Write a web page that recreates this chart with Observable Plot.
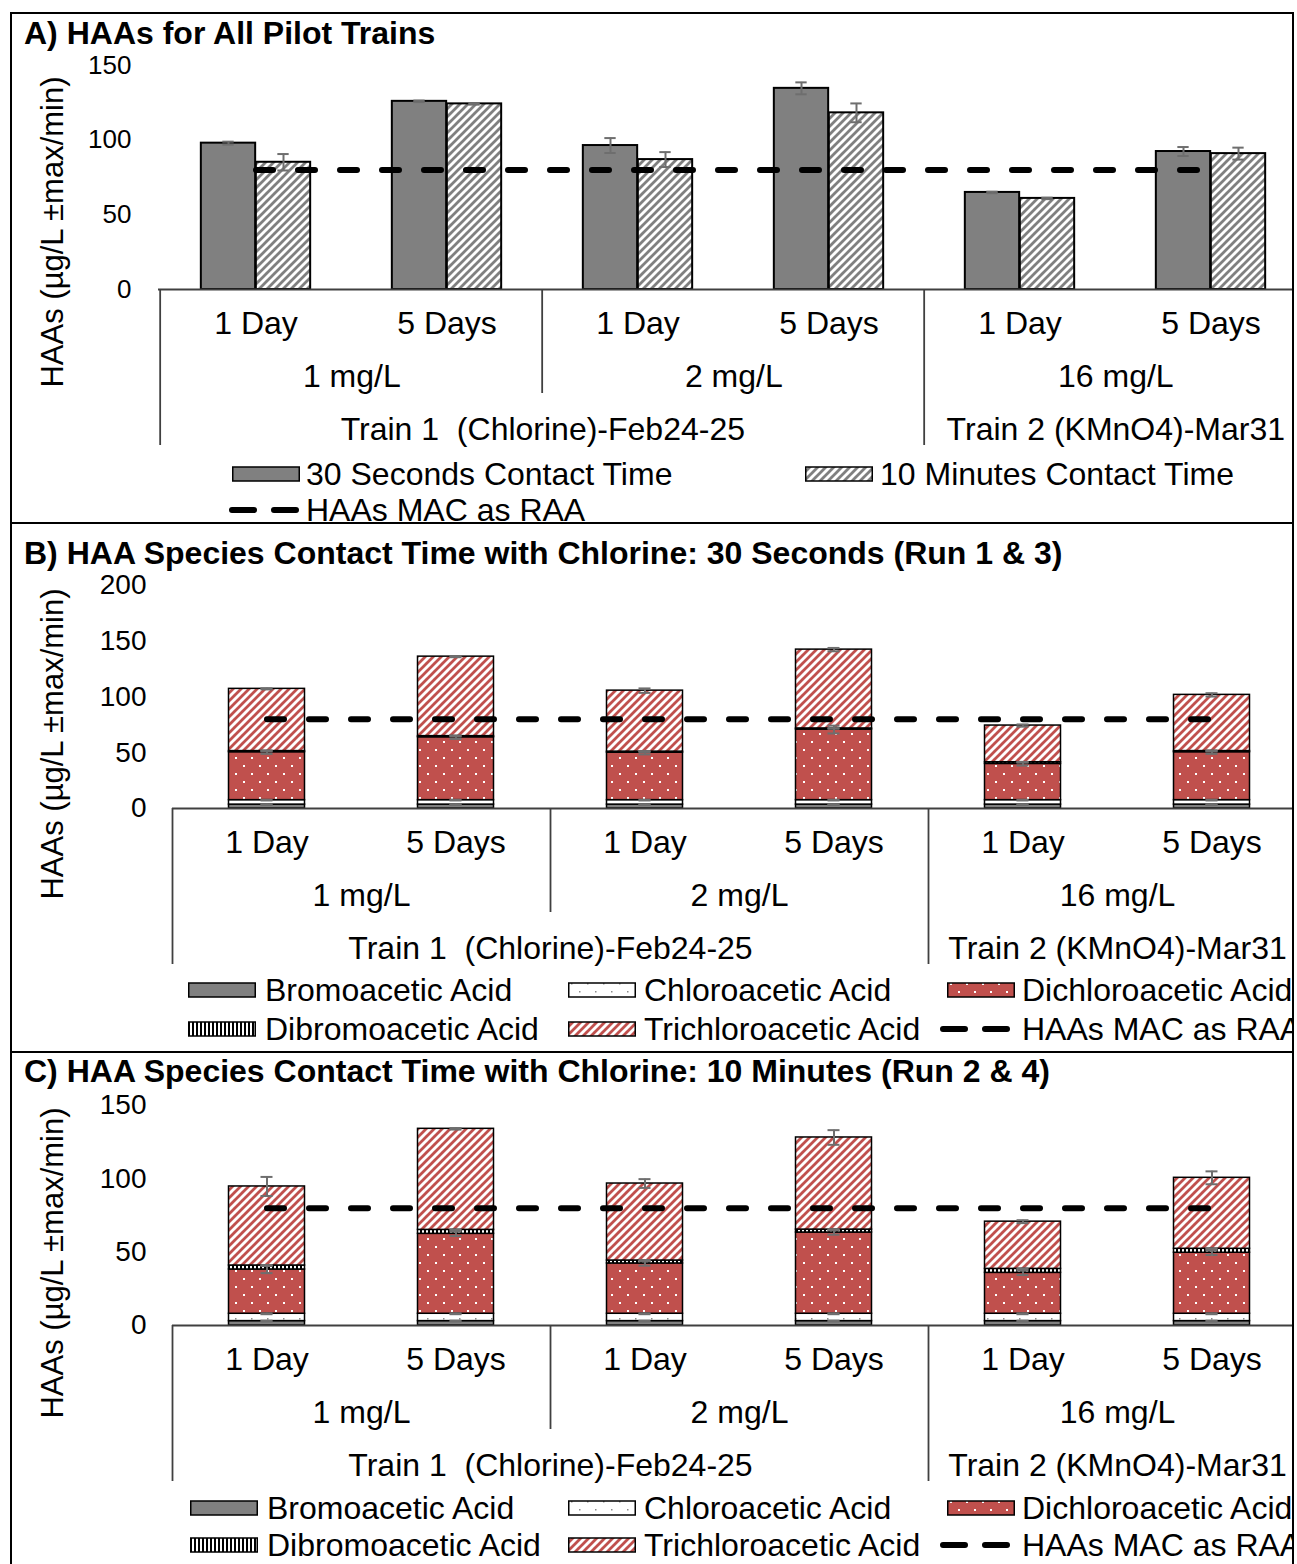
<!DOCTYPE html>
<html>
<head>
<meta charset="utf-8">
<script src="https://cdn.jsdelivr.net/npm/d3@7"></script>
<script src="https://cdn.jsdelivr.net/npm/@observablehq/plot@0.6"></script>
<style>
  html, body { margin: 0; padding: 0; background: #fff; }
  #figure { position: relative; width: 1297px; height: 1564px; overflow: hidden; background: #fff;
            font-family: "Liberation Sans", Arial, Helvetica, sans-serif; color: #000; }
  .panel { position: absolute; box-sizing: border-box; border: 2px solid #000; overflow: hidden; }
  .panel.open-bottom { border-bottom: none; }
  .panel svg text { white-space: pre; }
  .title { position: absolute; font-size: 32px; line-height: 32px; font-weight: bold; white-space: nowrap; }
  .ylabel { position: absolute; font-size: 31px; line-height: 31px; white-space: nowrap;
            transform: translate(-50%, -50%) rotate(-90deg); }
  .legend-text { position: absolute; font-size: 32px; line-height: 24px; white-space: nowrap; }
  .swatch { position: absolute; overflow: visible; }
</style>
</head>
<body>
<div id="figure">
  <svg width="0" height="0" style="position:absolute" aria-hidden="true">
    <defs>
      <pattern id="hatch-gray" patternUnits="userSpaceOnUse" width="8" height="8">
        <rect width="8" height="8" fill="#fff"/>
        <path d="M-2,2 L2,-2 M0,8 L8,0 M6,10 L10,6" stroke="#808080" stroke-width="2.8"/>
      </pattern>
      <pattern id="hatch-red" patternUnits="userSpaceOnUse" width="8" height="8">
        <rect width="8" height="8" fill="#fff"/>
        <path d="M-2,2 L2,-2 M0,8 L8,0 M6,10 L10,6" stroke="#C0504D" stroke-width="2.8"/>
      </pattern>
      <pattern id="dots-red" patternUnits="userSpaceOnUse" width="16" height="16">
        <rect width="16" height="16" fill="#C0504D"/>
        <rect x="3" y="3" width="2" height="2" fill="#fff"/>
        <rect x="11" y="11" width="2" height="2" fill="#fff"/>
      </pattern>
      <pattern id="dots-white" patternUnits="userSpaceOnUse" width="16" height="16">
        <rect width="16" height="16" fill="#fff"/>
        <rect x="3" y="3" width="1.5" height="1.5" fill="#8c8c8c"/>
        <rect x="11" y="11" width="1.5" height="1.5" fill="#8c8c8c"/>
      </pattern>
      <pattern id="stripes-vertical" patternUnits="userSpaceOnUse" width="4" height="4">
        <rect width="4" height="4" fill="#fff"/>
        <rect width="2" height="4" fill="#000"/>
      </pattern>
    </defs>
  </svg>
</div>
<script>
// ---------------- Data ----------------
const categoryDays = ["1 Day", "5 Days"];
const doseLevels = ["1 mg/L", "2 mg/L", "16 mg/L"];
const trainLabels = ["Train 1  (Chlorine)-Feb24-25", "Train 2 (KMnO4)-Mar31"];
const trainDoseCounts = [2, 1];           // dose levels belonging to each train

const macLimit = 80;                       // HAAs maximum acceptable concentration (µg/L)

// Panel A: total HAAs by chlorine contact time
const haa30s    = [98, 126, 96.4, 134.7, 65, 92.4];
const haa30sErr = [1, 0.5, 5, 4, 0.5, 3];
const haa10m    = [85.2, 124.3, 87, 118.3, 61, 91];
const haa10mErr = [5.5, 0.5, 5, 6.3, 0.5, 4];

// HAA species, stacked bottom to top
const speciesNames = ["Bromoacetic Acid", "Chloroacetic Acid", "Dichloroacetic Acid",
                      "Dibromoacetic Acid", "Trichloroacetic Acid"];
const speciesFills = ["#808080", "url(#dots-white)", "url(#dots-red)",
                      "url(#stripes-vertical)", "url(#hatch-red)"];

// Panel B: 30 seconds contact time
const bromoB     = [3.5, 3.5, 3.5, 3.5, 3.5, 3.5];
const chloroB    = [4, 4, 4, 4, 4, 4];
const dichloroB  = [43, 56.4, 42.5, 63.3, 32.5, 43];
const dibromoB   = [1, 1, 1, 1, 1.5, 1];
const trichloroB = [55.8, 71.3, 54.7, 70.7, 32.9, 50.4];
const bromoBErr     = [0.3, 0.3, 0.3, 0.3, 0.3, 0.3];
const chloroBErr    = [0.3, 0.3, 0.3, 0.3, 0.3, 0.3];
const dichloroBErr  = [1.5, 1.5, 1.5, 3.5, 1.5, 1.5];
const dibromoBErr   = [0.3, 0.3, 0.3, 0.3, 0.3, 0.3];
const trichloroBErr = [0.5, 0.5, 2, 1.5, 1, 1.5];

// Panel C: 10 minutes contact time
const bromoC     = [3, 3, 3, 3, 3, 3];
const chloroC    = [5, 5, 5, 5, 5, 5];
const dichloroC  = [30.2, 54.5, 34.3, 55.4, 27.9, 41.6];
const dibromoC   = [2.7, 2.7, 2, 2, 2.7, 2.7];
const trichloroC = [53.9, 68.9, 52.5, 62.8, 32.2, 48.4];
const bromoCErr     = [0.3, 0.3, 0.3, 0.3, 0.3, 0.3];
const chloroCErr    = [0.3, 0.3, 0.3, 0.3, 0.3, 0.3];
const dichloroCErr  = [2.5, 1.5, 1.5, 1.5, 1.5, 1.5];
const dibromoCErr   = [0.3, 0.3, 0.3, 0.3, 0.3, 0.3];
const trichloroCErr = [6.5, 0.5, 3, 5, 1, 4.4];

const yTicksA = [0, 50, 100, 150];
const yTicksB = [0, 50, 100, 150, 200];
const yTicksC = [0, 50, 100, 150];

const yTitle = "HAAs (µg/L ±max/min)";

// ---------------- Derived tables ----------------
const categories = doseLevels.flatMap(dose => categoryDays.map(day => ({key: `${dose} · ${day}`, dose, day})));
const categoryKeys = categories.map(c => c.key);
const perDose = categoryDays.length;

const doseGroups = doseLevels.map((dose, d) => ({
  dose,
  start: categories[d * perDose].key,
  anchor: categories[d * perDose + perDose / 2 - 1].key   // label sits on this category's right edge
}));
const trainGroups = [];
{
  let s = 0;
  trainLabels.forEach((label, t) => {
    const n = trainDoseCounts[t] * perDose;
    trainGroups.push({label, start: categories[s].key, anchor: categories[s + n / 2 - 1].key});
    s += n;
  });
}
const trainStarts = trainGroups.map(g => g.start);
const doseSeparators = doseGroups.map(g => g.start).filter(k => !trainStarts.includes(k));

const macRows = categories.map(c => ({key: c.key, value: macLimit}));

function seriesRows(values, errors) {
  return categories.map((c, i) => ({key: c.key, value: values[i], top: values[i], err: errors[i]}));
}
function stackedRows(series, errors) {
  const rows = [];
  const running = categories.map(() => 0);
  series.forEach((values, s) => {
    categories.forEach((c, i) => {
      running[i] += values[i];
      rows.push({key: c.key, species: speciesNames[s], value: values[i], top: running[i], err: errors[s][i]});
    });
  });
  return rows;
}

const rowsA30 = seriesRows(haa30s, haa30sErr);
const rowsA10 = seriesRows(haa10m, haa10mErr);
const rowsB = stackedRows([bromoB, chloroB, dichloroB, dibromoB, trichloroB],
                          [bromoBErr, chloroBErr, dichloroBErr, dibromoBErr, trichloroBErr]);
const rowsC = stackedRows([bromoC, chloroC, dichloroC, dibromoC, trichloroC],
                          [bromoCErr, chloroCErr, dichloroCErr, dibromoCErr, trichloroCErr]);

// ---------------- Shared mark builders ----------------
const axisLine = {stroke: "#404040", strokeWidth: 1.8};
const errorStyle = {stroke: "#6e6e6e", strokeWidth: 2};
const labelStyle = {frameAnchor: "bottom", lineAnchor: "middle", fontSize: 32, fill: "#000"};

function errorBars(rows, band, offset) {
  const capLeft = band / 2 + offset - 6, capRight = band / 2 - offset - 6;
  return [
    Plot.ruleX(rows, {x: "key", y1: d => d.top - d.err, y2: d => d.top + d.err, dx: offset, ...errorStyle}),
    Plot.tickY(rows, {x: "key", y: d => d.top - d.err, insetLeft: capLeft, insetRight: capRight, ...errorStyle}),
    Plot.tickY(rows, {x: "key", y: d => d.top + d.err, insetLeft: capLeft, insetRight: capRight, ...errorStyle})
  ];
}

function macLine() {
  return Plot.lineY(macRows, {x: "key", y: "value", stroke: "#000", strokeWidth: 6,
                              strokeDasharray: "17,25", strokeLinecap: "round"});
}

// Multi-level category axis: day / dose / pilot train, with group dividers
function categoryAxis(band, frameH) {
  const last = categoryKeys[categoryKeys.length - 1];
  return [
    Plot.ruleY([0], axisLine),
    Plot.ruleX(doseSeparators, {x: d => d, dx: -band / 2, insetTop: frameH, insetBottom: -104, ...axisLine}),
    Plot.ruleX(trainStarts, {x: d => d, dx: -band / 2, insetTop: frameH, insetBottom: -156, ...axisLine}),
    Plot.ruleX([last], {x: d => d, dx: band / 2, insetTop: frameH, insetBottom: -156, ...axisLine}),
    Plot.text(categories, {x: "key", text: "day", dy: 34, ...labelStyle}),
    Plot.text(doseGroups, {x: "anchor", text: "dose", dy: 87, dx: band / 2, ...labelStyle}),
    Plot.text(trainGroups, {x: "anchor", text: "label", dy: 140, dx: band / 2, ...labelStyle})
  ];
}

// ---------------- Layout helpers ----------------
const figure = document.getElementById("figure");

function makePanel(left, top, width, height, openBottom) {
  const div = document.createElement("div");
  div.className = openBottom ? "panel open-bottom" : "panel";
  Object.assign(div.style, {left: left + "px", top: top + "px", width: width + "px", height: height + "px"});
  figure.appendChild(div);
  const place = (el, x, y) => { el.style.left = (x - left - 2) + "px"; el.style.top = (y - top - 2) + "px"; };
  return {div, place, left, top};
}

function addText(panel, cls, text, x, y) {
  const el = document.createElement("div");
  el.className = cls;
  el.textContent = text;
  panel.place(el, x, y);
  panel.div.appendChild(el);
  return el;
}

function addTitle(panel, text, x, cy) { addText(panel, "title", text, x, cy - 16); }
function addYLabel(panel, cx, cy) { addText(panel, "ylabel", yTitle, cx, cy); }

function addSwatch(panel, x, cy, kind, fill) {
  const w = kind === "dash" ? 70 : 68, h = 14;
  const svg = d3.create("svg").attr("class", "swatch").attr("width", w).attr("height", 20);
  if (kind === "dash") {
    svg.append("line").attr("x1", 3).attr("x2", w - 3).attr("y1", 10).attr("y2", 10)
      .attr("stroke", "#000").attr("stroke-width", 6).attr("stroke-linecap", "round")
      .attr("stroke-dasharray", "22,20");
  } else {
    svg.append("rect").attr("x", 0.75).attr("y", 10 - h / 2).attr("width", w - 1.5).attr("height", h)
      .attr("fill", fill).attr("stroke", "#000").attr("stroke-width", 1.5);
  }
  const node = svg.node();
  panel.place(node, x, cy - 10);
  panel.div.appendChild(node);
}

function addLegendItem(panel, swatchX, textX, cy, kind, fill, label) {
  addSwatch(panel, swatchX, cy, kind, fill);
  addText(panel, "legend-text", label, textX, cy - 12);
}

function drawPlot(panel, cfg) {
  const band = (cfg.frameRight - cfg.frameLeft) / categoryKeys.length;
  const marginTop = cfg.topPx - panel.top;
  const frameH = cfg.baselinePx - cfg.topPx;
  const marginBottom = 185;
  const svg = Plot.plot({
    width: cfg.frameRight,
    height: marginTop + frameH + marginBottom,
    marginLeft: cfg.frameLeft, marginRight: 0, marginTop, marginBottom,
    style: `font-family:'Liberation Sans',Arial,sans-serif;font-size:${cfg.tickFont}px;background:transparent;overflow:visible;max-width:none;color:#000;position:absolute;`,
    x: {type: "band", domain: categoryKeys, padding: 0, axis: null},
    y: {domain: cfg.yDomain, ticks: cfg.yTicks, tickSize: 0, tickPadding: cfg.tickPadding, label: null},
    color: {domain: speciesNames, range: speciesFills},
    marks: [...cfg.marks(band), ...categoryAxis(band, frameH)]
  });
  panel.place(svg, 0, panel.top);
  panel.div.appendChild(svg);
}

// ---------------- Panel A ----------------
{
  // open at the bottom: panel B's top border is the divider line
  const panel = makePanel(10, 12, 1284, 522, true);
  const barW = 55;
  drawPlot(panel, {
    frameLeft: 158, frameRight: 1308, topPx: 65, baselinePx: 289,
    yDomain: [0, 150], yTicks: yTicksA, tickPadding: 27, tickFont: 26,
    marks: band => [
      Plot.barY(rowsA30, {x: "key", y: "value", fill: "#808080", stroke: "#000", strokeWidth: 2,
                          insetLeft: band / 2 - barW, insetRight: band / 2}),
      Plot.barY(rowsA10, {x: "key", y: "value", fill: "url(#hatch-gray)", stroke: "#000", strokeWidth: 2,
                          insetLeft: band / 2, insetRight: band / 2 - barW}),
      ...errorBars(rowsA30, band, -barW / 2),
      ...errorBars(rowsA10, band, barW / 2),
      macLine()
    ]
  });
  addTitle(panel, "A) HAAs for All Pilot Trains", 24, 33);
  addYLabel(panel, 52, 232);
  addLegendItem(panel, 232, 306, 474, "rect", "#808080", "30 Seconds Contact Time");
  addLegendItem(panel, 805, 880, 474, "rect", "url(#hatch-gray)", "10 Minutes Contact Time");
  addLegendItem(panel, 229, 306, 510, "dash", null, "HAAs MAC as RAA");
}

// ---------------- Panels B and C ----------------
function stackedMarks(rows) {
  return band => {
    const inset = (band - 76) / 2;
    return [
      Plot.barY(rows, {x: "key", y: "value", fill: "species", stroke: "#000", strokeWidth: 1.5,
                       insetLeft: inset, insetRight: inset}),
      ...errorBars(rows, band, 0),
      macLine()
    ];
  };
}

function speciesLegend(panel, row1, row2, firstSwatchX, firstTextX) {
  const cols = [[firstSwatchX, firstTextX], [568, 644], [947, 1022]];
  const slots = [[0, row1], [1, row1], [2, row1], [0, row2], [1, row2]];
  speciesNames.forEach((name, i) => {
    const [col, cy] = slots[i];
    addLegendItem(panel, cols[col][0], cols[col][1], cy, "rect", speciesFills[i], name);
  });
  addLegendItem(panel, 940, 1022, row2, "dash", null, "HAAs MAC as RAA");
}

{
  const panel = makePanel(10, 522, 1284, 531);
  drawPlot(panel, {
    frameLeft: 172, frameRight: 1306, topPx: 585, baselinePx: 808,
    yDomain: [0, 200], yTicks: yTicksB, tickPadding: 26, tickFont: 28,
    marks: stackedMarks(rowsB)
  });
  addTitle(panel, "B) HAA Species Contact Time with Chlorine: 30 Seconds (Run 1 & 3)", 24, 553);
  addYLabel(panel, 52, 744);
  speciesLegend(panel, 990, 1029, 188, 265);
}

{
  const panel = makePanel(10, 1051, 1284, 520);
  drawPlot(panel, {
    frameLeft: 172, frameRight: 1306, topPx: 1105, baselinePx: 1325,
    yDomain: [0, 150], yTicks: yTicksC, tickPadding: 26, tickFont: 28,
    marks: stackedMarks(rowsC)
  });
  addTitle(panel, "C) HAA Species Contact Time with Chlorine: 10 Minutes (Run 2 & 4)", 24, 1071);
  addYLabel(panel, 52, 1263);
  speciesLegend(panel, 1508, 1545, 190, 267);
}
</script>
</body>
</html>
